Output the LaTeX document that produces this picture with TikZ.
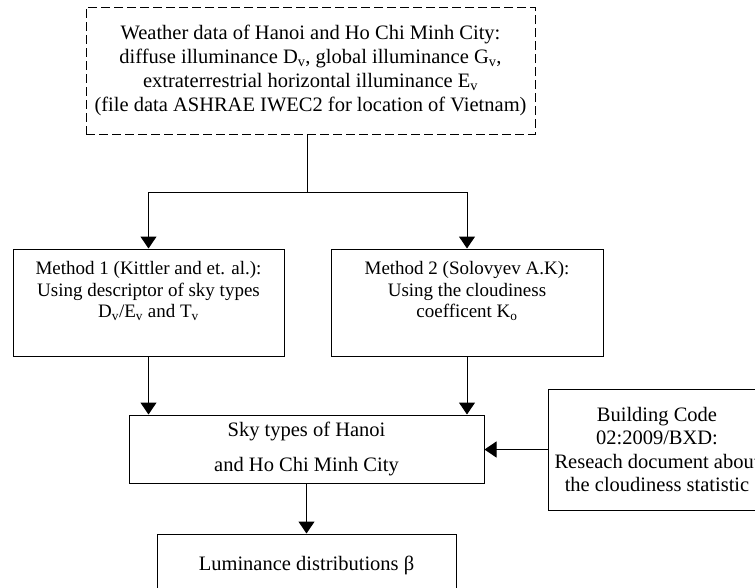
\documentclass[tikz,border=0pt]{standalone}
\usepackage{fontspec}
\setmainfont{Liberation Serif}
\usetikzlibrary{arrows.meta, calc}

\begin{document}
\begin{tikzpicture}[x=1pt, y=-1pt, font=\fontsize{20.5}{24}\selectfont,
    box/.style={draw, line width=1pt, rectangle, align=center, inner sep=0pt},
    dashbox/.style={box, dash pattern=on 9pt off 4pt},
    flow/.style={-{Triangle[width=16pt, length=12pt]}, line width=1pt}]
    \useasboundingbox (0,0) rectangle (755,587);
    % input data
    \node[dashbox, minimum width=449pt, minimum height=127pt] (weather) at (310.5,70.5)
        {Weather data of Hanoi and Ho Chi Minh City:\\
         diffuse illuminance D\textsubscript{v}, global illuminance G\textsubscript{v},\\
         extraterrestrial horizontal illuminance E\textsubscript{v}\\
         (file data ASHRAE IWEC2 for location of Vietnam)};
    % the two methods
    \node[box, minimum width=271pt, minimum height=107pt, text depth=26pt,
          font=\fontsize{19}{21.5}\selectfont] (method1) at (148.5,302.5)
        {Method 1 (Kittler and et. al.):\\
         Using descriptor of sky types\\
         D\textsubscript{v}/E\textsubscript{v} and T\textsubscript{v}};
    \node[box, minimum width=272pt, minimum height=107pt, text depth=26pt,
          font=\fontsize{19}{21.5}\selectfont] (method2) at (467,302.5)
        {Method 2 (Solovyev A.K):\\
         Using the cloudiness\\
         coefficent K\textsubscript{o}};
    % results
    \node[box, minimum width=355pt, minimum height=68pt,
          font=\fontsize{20.5}{35}\selectfont] (skytypes) at (306.5,449)
        {Sky types of Hanoi\\ and Ho Chi Minh City};
    \node[box, minimum width=218pt, minimum height=121pt,
          font=\fontsize{20.5}{23.3}\selectfont] (building) at (657,449.5)
        {Building Code\\ 02:2009/BXD:\\ Reseach document about\\ the cloudiness statistic};
    \node[box, minimum width=299pt, minimum height=62pt] (luminance) at (306.5,565)
        {Luminance distributions β};
    % connectors
    \coordinate (split) at ($(weather.south)+(-3.5,58)$);
    \draw[line width=1pt] (split |- weather.south) -- (split);
    \draw[flow] (split) -| (method1.north);
    \draw[flow] (split) -| (method2.north);
    \draw[flow] (method1.south) -- (method1.south |- skytypes.north);
    \draw[flow] (method2.south) -- (method2.south |- skytypes.north);
    \draw[flow] (building.west) -- (building.west -| skytypes.east);
    \draw[flow] (skytypes) -- (luminance);
\end{tikzpicture}
\end{document}
